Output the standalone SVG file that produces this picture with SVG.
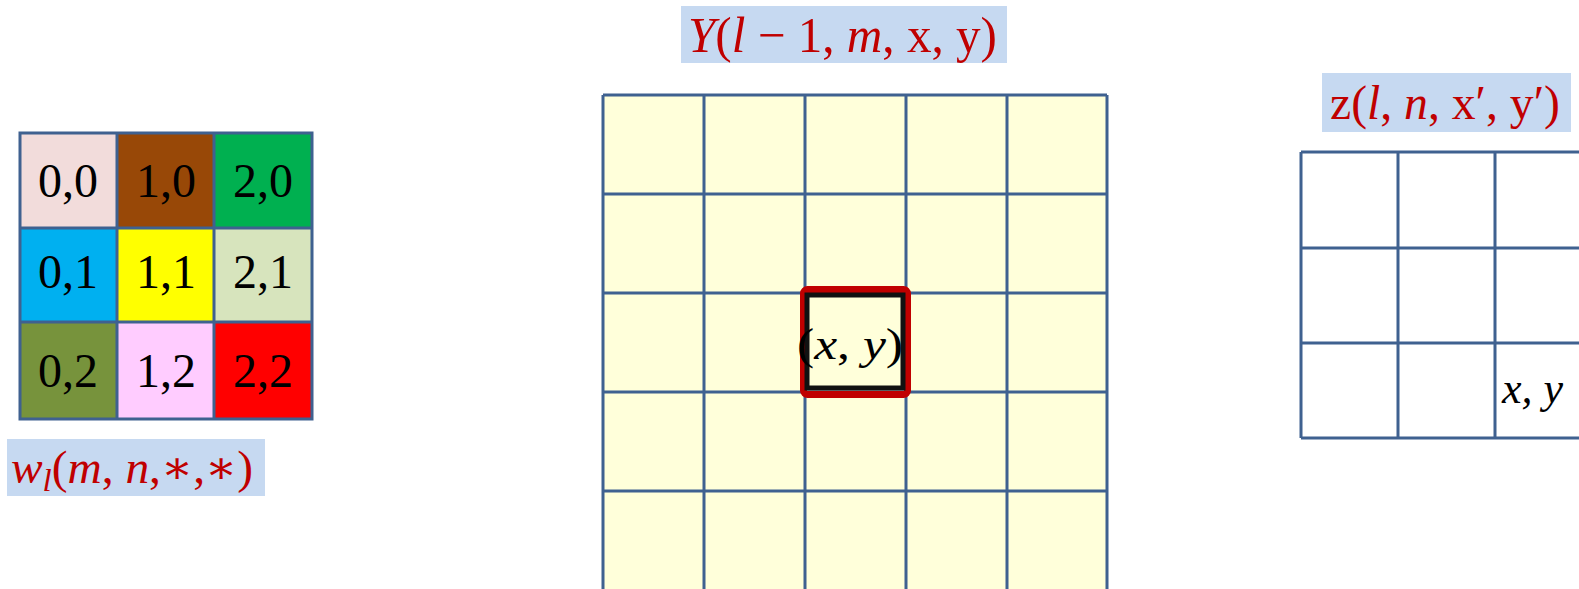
<svg xmlns="http://www.w3.org/2000/svg" width="1579" height="589" viewBox="0 0 1579 589">
<style>
.grid{stroke:#3F6190;stroke-width:3;fill:none}
.lbl{fill:#C6D9F1}
.rt{font-family:"Liberation Serif","DejaVu Serif",serif;fill:#C00000}
.kt{font-family:"Liberation Serif","DejaVu Serif",serif;font-size:48px;fill:#000;text-anchor:middle}
.it{font-style:italic}
.mt{font-family:"Liberation Serif","DejaVu Serif",serif;font-size:44px;fill:#000}
</style>
<rect width="1579" height="589" fill="#fff"/>
<g id="kernel">
<rect x="20" y="133" width="97" height="95" fill="#F2DCDB"/>
<rect x="117" y="133" width="97" height="95" fill="#984807"/>
<rect x="214" y="133" width="98" height="95" fill="#00B050"/>
<rect x="20" y="228" width="97" height="94" fill="#00B0F0"/>
<rect x="117" y="228" width="97" height="94" fill="#FFFF00"/>
<rect x="214" y="228" width="98" height="94" fill="#D7E4BD"/>
<rect x="20" y="322" width="97" height="97" fill="#77933C"/>
<rect x="117" y="322" width="97" height="97" fill="#FFCCFF"/>
<rect x="214" y="322" width="98" height="97" fill="#FF0000"/>
<path class="grid" d="M20,133H312V419H20Z M117,133V419 M214,133V419 M20,228H312 M20,322H312"/>
<text class="kt" x="68" y="197" textLength="60" lengthAdjust="spacingAndGlyphs">0,0</text>
<text class="kt" x="166" y="197" textLength="60" lengthAdjust="spacingAndGlyphs">1,0</text>
<text class="kt" x="263" y="197" textLength="60" lengthAdjust="spacingAndGlyphs">2,0</text>
<text class="kt" x="68" y="288" textLength="60" lengthAdjust="spacingAndGlyphs">0,1</text>
<text class="kt" x="166" y="288" textLength="60" lengthAdjust="spacingAndGlyphs">1,1</text>
<text class="kt" x="263" y="288" textLength="60" lengthAdjust="spacingAndGlyphs">2,1</text>
<text class="kt" x="68" y="387" textLength="60" lengthAdjust="spacingAndGlyphs">0,2</text>
<text class="kt" x="166" y="387" textLength="60" lengthAdjust="spacingAndGlyphs">1,2</text>
<text class="kt" x="263" y="387" textLength="60" lengthAdjust="spacingAndGlyphs">2,2</text>
</g>
<g id="w-label">
<rect class="lbl" x="7" y="439" width="258" height="57"/>
<text class="rt" x="11" y="483" font-size="46" textLength="242" lengthAdjust="spacingAndGlyphs"><tspan class="it">w</tspan><tspan class="it" font-size="32" dy="8">l</tspan><tspan dy="-8">(</tspan><tspan class="it">m</tspan>, <tspan class="it">n</tspan>,∗,∗)</text>
</g>
<g id="input-grid">
<rect x="603" y="95" width="504" height="494" fill="#FFFFDA"/>
<path class="grid" d="M603,95V589 M704,95V589 M805,95V589 M906,95V589 M1007,95V589 M1107,95V589 M603,95H1107 M603,194H1107 M603,293H1107 M603,392H1107 M603,491H1107"/>
</g>
<g id="Y-label">
<rect class="lbl" x="681" y="6" width="326" height="57"/>
<text class="rt" x="688" y="52" font-size="50" textLength="309" lengthAdjust="spacingAndGlyphs"><tspan class="it">Y</tspan>(<tspan class="it">l</tspan> − 1, <tspan class="it">m</tspan>, x, y)</text>
</g>
<g id="highlight">
<rect x="803.5" y="289.5" width="104" height="105" rx="4" fill="none" stroke="#C00000" stroke-width="7"/>
<rect x="807" y="295" width="96" height="93" fill="none" stroke="#111" stroke-width="5"/>
<text class="mt" x="850" y="359" text-anchor="middle" textLength="106" lengthAdjust="spacingAndGlyphs">(<tspan class="it">x</tspan>, <tspan class="it">y</tspan>)</text>
</g>
<g id="output-grid">
<path class="grid" d="M1301,152V438 M1398,152V438 M1495,152V438 M1301,152H1579 M1301,248H1579 M1301,343H1579 M1301,438H1579"/>
<text class="mt it" x="1502" y="403">x, y</text>
</g>
<g id="z-label">
<rect class="lbl" x="1322" y="73" width="249" height="59"/>
<text class="rt" x="1330" y="119" font-size="48" textLength="230" lengthAdjust="spacingAndGlyphs">z(<tspan class="it">l</tspan>, <tspan class="it">n</tspan>, x′, y′)</text>
</g>
<g id="connectors"/>
</svg>
